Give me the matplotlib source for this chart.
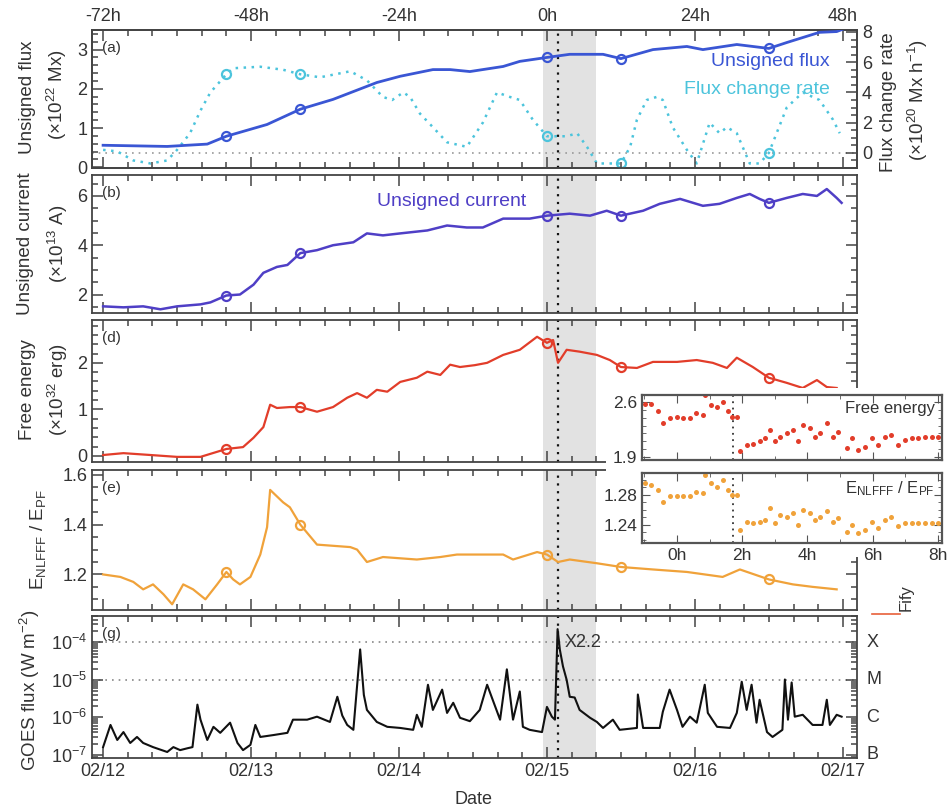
import numpy as np
import matplotlib
matplotlib.use('Agg')
import matplotlib.pyplot as plt
from matplotlib.ticker import MultipleLocator, FixedLocator, FuncFormatter, LogLocator, NullFormatter
from matplotlib.lines import Line2D

plt.rcParams['font.family'] = ['Liberation Sans', 'DejaVu Sans']
plt.rcParams['mathtext.default'] = 'regular'

# ---- data (time in hours relative to 2011-02-15 00:00 UT) ----
flare_t = 1.73        # X2.2 peak, 01:44 UT
snap_t = [-52, -40, 0, 12, 36]   # times marked with open circles

flux_t = [-72, -61.6, -55.1, -52, -45.4, -40, -34.7, -27.6, -23.8, -18.5, -15.7, -12.5,
          -7.1, -4.4, 0, 3.7, 9.1, 12, 17.2, 22.7, 25.3, 30.8, 36, 38.9, 44.2, 47.0, 48.0]
flux_v = [0.56, 0.53, 0.59, 0.79, 1.09, 1.48, 1.73, 2.16, 2.32, 2.49, 2.49, 2.44,
          2.57, 2.70, 2.80, 2.88, 2.88, 2.77, 3.00, 3.08, 3.00, 3.13, 3.03, 3.18, 3.44, 3.46, 3.52]

rate_t = [-72, -69.7, -67.1, -64.3, -61.6, -60.0, -57.9, -56.2, -54.6, -52, -50.9, -46.5,
          -42.8, -40, -36.8, -31.9, -29.2, -26.6, -25.1, -23.3, -22.2, -20.6, -18.5, -16.2,
          -13.0, -10.4, -8.1, -6.0, -4.4, -2.3, 0, 3.2, 4.9, 6.5, 8.1, 12, 13.5, 14.6, 16.2,
          17.8, 18.8, 20.4, 22.7, 24.3, 26.4, 28.0, 29.2, 30.8, 32.9, 34.5, 36, 38.9, 41.5,
          44.2, 46.4, 47.5]
rate_v = [0.2, 0.1, -0.5, -0.7, -0.5, 0.2, 1.3, 2.8, 4.0, 5.2, 5.6, 5.7,
          5.5, 5.2, 5.0, 5.4, 4.8, 3.7, 3.5, 4.0, 3.7, 2.6, 1.7, 0.7,
          0.4, 2.0, 4.0, 3.7, 3.5, 2.2, 1.1, 1.1, 1.3, 0.4, -0.7, -0.7, 0.4, 2.2, 3.5,
          3.7, 3.5, 1.7, 0.2, -0.7, 2.0, 1.3, 1.7, 1.3, -0.7, -0.7, 0.0, 3.0, 4.0,
          3.5, 2.2, 1.3]

cur_t = [-72, -68.7, -65.5, -62.7, -60.0, -56.2, -54.6, -52, -49.8, -47.6, -46.0, -43.8,
         -42.1, -40, -37.3, -34.7, -31.4, -29.2, -26.6, -23.8, -19.4, -16.2, -13.0, -10.4,
         -7.1, -2.8, 0, 3.7, 7.0, 9.7, 12, 15.6, 18.3, 21.6, 25.3, 28.0, 30.8, 32.9, 34.5,
         36, 38.9, 41.5, 43.8, 45.4, 47.0, 47.8]
cur_v = [1.52, 1.48, 1.52, 1.40, 1.52, 1.60, 1.68, 1.96, 2.00, 2.40, 2.88, 3.12,
         3.20, 3.68, 3.80, 4.00, 4.12, 4.48, 4.40, 4.48, 4.60, 4.80, 4.72, 4.72,
         5.08, 5.08, 5.20, 5.28, 5.20, 5.40, 5.20, 5.40, 5.68, 5.88, 5.60, 5.68, 5.92, 6.08, 5.88,
         5.72, 5.92, 6.08, 6.00, 6.28, 5.92, 5.72]

fe_t = [-72, -68.7, -64.3, -60.0, -56.2, -52, -49.3, -47.6, -46.0, -44.9, -43.8, -41.7,
        -40, -37.3, -34.7, -32.4, -30.8, -29.2, -27.6, -25.9, -23.8, -21.1, -19.4, -17.3,
        -15.7, -14.1, -11.7, -9.7, -7.1, -4.4, -1.6, 0, 1.0, 1.8, 3.2, 5.3, 8.1, 10.2, 12,
        14.6, 17.2, 21.1, 24.3, 26.9, 29.2, 30.8, 33.4, 36, 38.9, 41.5, 43.8, 45.4, 47.0]
fe_v = [0.02, 0.06, 0.02, -0.02, -0.02, 0.15, 0.19, 0.39, 0.62, 1.10, 1.03, 1.05,
        1.05, 0.95, 1.05, 1.25, 1.35, 1.25, 1.42, 1.38, 1.59, 1.68, 1.81, 1.74,
        1.96, 1.91, 1.95, 2.00, 2.17, 2.28, 2.56, 2.43, 2.49, 2.00, 2.28, 2.24, 2.17, 2.06, 1.91,
        1.89, 2.02, 2.02, 2.06, 2.00, 1.89, 2.11, 1.91, 1.68, 1.57, 1.46, 1.63, 1.48, 1.46]

ratio_t = [-72, -69.2, -67.1, -65.5, -63.9, -62.2, -60.8, -59.0, -57.4, -55.4, -53.5, -52,
           -50.9, -49.8, -48.1, -46.5, -45.4, -44.9, -42.8, -41.7, -40, -37.3, -31.9, -30.8,
           -29.2, -26.6, -21.1, -17.3, -14.6, -12.5, -7.1, -5.5, -1.6, 0, 1.8, 3.7, 8.1, 12,
           17.2, 22.7, 28.5, 31.3, 36, 39.9, 43.1, 47.0]
ratio_v = [1.20, 1.19, 1.17, 1.14, 1.16, 1.12, 1.08, 1.16, 1.14, 1.10, 1.16, 1.21,
           1.18, 1.16, 1.19, 1.28, 1.39, 1.54, 1.49, 1.47, 1.40, 1.32, 1.31, 1.30,
           1.25, 1.27, 1.26, 1.27, 1.28, 1.28, 1.28, 1.26, 1.29, 1.28, 1.25, 1.26, 1.245, 1.23,
           1.22, 1.21, 1.19, 1.22, 1.18, 1.16, 1.15, 1.14]

goes_t = [-72, -70.8, -69.7, -68.7, -67.6, -66.5, -65.5, -63.9, -61.6, -60.6, -59.5, -58.3,
          -57.5, -56.7, -56.2, -55.1, -54.1, -53.0, -51.4, -50.2, -49.3, -48.1, -47.3, -46.5,
          -44.4, -42.1, -41.2, -38.9, -37.3, -35.2, -34.0, -33.2, -32.4, -31.4, -30.3, -29.7, -29.2, -27.6,
          -25.9, -23.8, -21.7, -21.1, -20.3, -19.3, -18.5, -17.0, -16.2, -15.2, -14.1, -12.5,
          -10.9, -9.7, -8.8, -7.6, -6.5, -5.5, -4.4, -3.9, -2.8, -0.8, 0.0, 0.8, 1.3, 1.73,
          2.1, 2.6, 3.2, 3.7, 4.5, 5.3, 7.0, 8.1, 9.1, 10.7, 11.8, 14.6, 14.75, 15.6, 18.3, 18.8, 19.9,
          21.1, 22.0, 23.2, 24.3, 25.6, 26.1, 27.6, 29.7, 30.8, 31.6, 32.4, 33.2, 34.0, 34.5,
          35.7, 36.6, 38.2, 38.6, 39.1, 39.7, 40.2, 41.5, 43.1, 44.7, 45.4, 45.9, 47.0, 47.8]
goes_lg = [-6.79, -6.20, -6.60, -6.39, -6.68, -6.52, -6.68, -6.79, -6.92, -6.79, -6.87, -6.82,
           -6.79, -5.66, -6.06, -6.60, -6.25, -6.41, -6.14, -6.68, -6.87, -6.73, -6.20, -6.52,
           -6.47, -6.41, -6.06, -6.06, -5.98, -6.12, -5.45, -5.95, -6.20, -6.33, -4.19, -5.40, -5.80, -6.12,
           -6.25, -6.28, -6.33, -5.93, -6.25, -5.13, -5.80, -5.26, -5.88, -5.61, -6.01, -6.10,
           -5.80, -5.13, -5.53, -6.06, -4.72, -6.06, -5.31, -6.25, -6.33, -6.39, -5.72, -5.98, -6.06, -3.65,
           -4.20, -4.64, -5.00, -5.45, -5.47, -5.80, -6.01, -6.12, -6.28, -6.06, -6.33, -6.28, -5.39, -6.28, -6.28, -5.85, -5.26,
           -5.80, -6.25, -5.98, -6.14, -5.13, -5.88, -6.25, -6.28, -5.88, -5.05, -5.80, -5.13, -6.14, -5.53,
           -6.39, -6.52, -6.33, -4.99, -6.06, -5.07, -5.98, -5.93, -6.20, -6.20, -5.53, -6.20, -5.93, -5.98]

# inset: 12-min cadence around the flare
ins_t = [-0.98, -0.78, -0.57, -0.42, -0.21, -0.01, 0.19, 0.40, 0.60, 0.81, 0.86, 1.06, 1.22,
         1.42, 1.57, 1.68, 1.83, 1.93, 2.14, 2.34, 2.55, 2.70, 2.85, 3.01, 3.16, 3.37, 3.57,
         3.72, 3.87, 4.08, 4.23, 4.39, 4.59, 4.79, 4.95, 5.21, 5.36, 5.56, 5.77, 5.97, 6.17,
         6.38, 6.58, 6.79, 6.99, 7.20, 7.40, 7.61, 7.81, 8.02]
ins_fe = [2.57, 2.58, 2.48, 2.33, 2.39, 2.41, 2.39, 2.39, 2.46, 2.43, 2.69, 2.56, 2.54,
          2.60, 2.48, 2.41, 2.41, 1.97, 2.05, 2.07, 2.10, 2.14, 2.24, 2.10, 2.16, 2.20, 2.24,
          2.10, 2.31, 2.27, 2.16, 2.20, 2.33, 2.16, 2.22, 2.01, 2.14, 1.99, 2.03, 2.14, 2.05,
          2.16, 2.18, 2.05, 2.12, 2.14, 2.14, 2.16, 2.15, 2.15]
ins_ratio = [1.296, 1.293, 1.287, 1.271, 1.278, 1.278, 1.278, 1.278, 1.284, 1.282, 1.307, 1.296, 1.291,
             1.300, 1.287, 1.280, 1.280, 1.233, 1.244, 1.242, 1.244, 1.247, 1.262, 1.242, 1.253, 1.251, 1.256,
             1.240, 1.260, 1.256, 1.247, 1.251, 1.258, 1.244, 1.249, 1.231, 1.240, 1.229, 1.233, 1.244, 1.236,
             1.247, 1.251, 1.238, 1.242, 1.242, 1.243, 1.243, 1.243, 1.242]

rel_ticks = [-72, -48, -24, 0, 24, 48]
date_labels = ['02/12', '02/13', '02/14', '02/15', '02/16', '02/17']
goes_class = ['X', 'M', 'C', 'B']

# ---- colours ----
c_flux = '#3a56d4'
c_rate = '#4cc4dc'
c_cur = '#4f3fc6'
c_fe = '#e23d2a'
c_ratio = '#f0a23a'
c_ax = '#444444'
c_shade = '#e2e2e2'

W, H = 947, 808
fig = plt.figure(figsize=(W / 100, H / 100), dpi=100)


def box(l, t, r, b):
    return [l / W, 1 - b / H, (r - l) / W, (b - t) / H]


def style(ax, ymaj, ymin, shade=True):
    for s in ax.spines.values():
        s.set_color(c_ax)
        s.set_linewidth(1.3)
    ax.set_xlim(-73.8, 50.3)
    ax.xaxis.set_major_locator(FixedLocator(rel_ticks))
    ax.xaxis.set_minor_locator(MultipleLocator(4))
    if ymaj is not None:
        ax.yaxis.set_major_locator(MultipleLocator(ymaj))
        ax.yaxis.set_minor_locator(MultipleLocator(ymin))
    ax.tick_params(which='both', direction='in', top=True, right=True, colors=c_ax,
                   labelcolor='#333333', labelsize=13, labelbottom=False, width=1.1)
    ax.tick_params(which='major', length=8)
    ax.tick_params(which='minor', length=4)
    if shade:
        ax.axvspan(-0.7, 8.0, color=c_shade, zorder=0, lw=0)
    ax.axvline(flare_t, color='#111111', ls=(0, (1, 2.5)), lw=1.6, zorder=1)


def marks(ax, t, v, color):
    t = np.asarray(t)
    v = np.asarray(v)
    m = np.isin(t, snap_t)
    ax.plot(t[m], v[m], 'o', mfc='none', mec=color, ms=6.5, mew=1.6, zorder=4)


def ylab(x, y, s, **kw):
    fig.text(x / W, 1 - y / H, s, rotation=90, ha='center', va='center',
             fontsize=13.5, color='#333333', multialignment='center', **kw)


# ---- (a) flux ----
ax_a = fig.add_axes(box(92, 30, 857, 168))
style(ax_a, 1, 0.2, shade=False)
ax_a.set_ylim(-0.02, 3.5)
ax_a.tick_params(labeltop=True)
ax_a.xaxis.set_major_formatter(FuncFormatter(lambda v, p: f"{int(round(v))}h"))
ax_a.yaxis.set_ticks_position('left')
ax_a2 = ax_a.twinx()
ax_a2.set_ylim(-1.0, 8.13)
ax_a2.yaxis.set_major_locator(MultipleLocator(2))
ax_a2.yaxis.set_minor_locator(MultipleLocator(0.5))
ax_a2.tick_params(which='both', direction='in', colors=c_ax, labelcolor='#333333',
                  labelsize=13, width=1.1)
ax_a2.tick_params(which='major', length=8)
ax_a2.tick_params(which='minor', length=4)
for s in ax_a2.spines.values():
    s.set_color(c_ax)
    s.set_linewidth(1.3)
ax_a2.axvspan(-0.7, 8.0, color=c_shade, zorder=0, lw=0)
ax_a2.axhline(0, color='#999999', ls=(0, (1, 3)), lw=1.2, zorder=1)
ax_a2.plot(rate_t, rate_v, color=c_rate, ls=(0, (1, 2.2)), lw=1.8, zorder=2)
marks(ax_a2, rate_t, rate_v, c_rate)
ax_a.plot(flux_t, flux_v, color=c_flux, lw=2.0, zorder=3)
marks(ax_a, flux_t, flux_v, c_flux)
ax_a.set_zorder(ax_a2.get_zorder() + 1)
ax_a.patch.set_visible(False)
ax_a2.patch.set_visible(True)
ax_a.text(0.013, 0.87, '(a)', transform=ax_a.transAxes, fontsize=11, color='#333333', va='center')
fig.text(830 / W, 1 - 62 / H, 'Unsigned flux', color=c_flux, fontsize=14, ha='right', va='center')
fig.text(830 / W, 1 - 90 / H, 'Flux change rate', color=c_rate, fontsize=14, ha='right', va='center')
ylab(28, 97, 'Unsigned flux')
ylab(57, 95, '(×10$^{22}$ Mx)')
ylab(888, 102, 'Flux change rate')
ylab(918, 100, '(×10$^{20}$ Mx h$^{-1}$)')

# ---- (b) current ----
ax_b = fig.add_axes(box(92, 175, 857, 313))
style(ax_b, 2, 0.5)
ax_b.set_ylim(1.25, 6.85)
ax_b.plot(cur_t, cur_v, color=c_cur, lw=1.8, zorder=3)
marks(ax_b, cur_t, cur_v, c_cur)
ax_b.text(0.013, 0.87, '(b)', transform=ax_b.transAxes, fontsize=11, color='#333333', va='center')
fig.text(452 / W, 1 - 202 / H, 'Unsigned current', color=c_cur, fontsize=14, ha='center', va='center')
ylab(26, 244, 'Unsigned current')
ylab(58, 244, '(×10$^{13}$ A)')

# ---- (d) free energy ----
ax_d = fig.add_axes(box(92, 320, 857, 462))
style(ax_d, 1, 0.2)
ax_d.set_ylim(-0.13, 2.92)
ax_d.plot(fe_t, fe_v, color=c_fe, lw=1.6, zorder=3)
marks(ax_d, fe_t, fe_v, c_fe)
ax_d.text(0.013, 0.87, '(d)', transform=ax_d.transAxes, fontsize=11, color='#333333', va='center')
ylab(28, 390, 'Free energy')
ylab(58, 390, '(×10$^{32}$ erg)')

# ---- (e) ratio ----
ax_e = fig.add_axes(box(92, 470, 857, 610))
style(ax_e, 0.2, 0.05)
ax_e.set_ylim(1.057, 1.62)
ax_e.plot(ratio_t, ratio_v, color=c_ratio, lw=1.6, zorder=3)
marks(ax_e, ratio_t, ratio_v, c_ratio)
ax_e.text(0.013, 0.87, '(e)', transform=ax_e.transAxes, fontsize=11, color='#333333', va='center')
ylab(38, 540, 'E$_{NLFFF}$ / E$_{PF}$')

# ---- (g) GOES ----
ax_g = fig.add_axes(box(92, 616, 857, 758))
style(ax_g, None, None)
ax_g.set_yscale('log')
ax_g.set_ylim(10 ** -7.08, 10 ** -3.3)
ax_g.yaxis.set_major_locator(LogLocator(base=10, numticks=10))
ax_g.yaxis.set_minor_locator(LogLocator(base=10, subs=np.arange(2, 10), numticks=10))
ax_g.yaxis.set_minor_formatter(NullFormatter())
ax_g.yaxis.set_major_formatter(FuncFormatter(lambda v, p: f"$10^{{{int(round(np.log10(v)))}}}$"))
ax_g.tick_params(labelbottom=True)
ax_g.set_xticklabels(date_labels)
for lv in (1e-4, 1e-5):
    ax_g.axhline(lv, color='#888888', ls=(0, (1, 3)), lw=1.2, zorder=1)
ax_g.plot(goes_t, 10 ** np.asarray(goes_lg), color='#111111', lw=1.5, zorder=3)
ax_g.text(0.013, 0.87, '(g)', transform=ax_g.transAxes, fontsize=11, color='#333333', va='center')
ax_g.text(2.8, 10 ** -4.0, 'X2.2', fontsize=13, color='#333333', va='center', ha='left')
for i, cl in enumerate(goes_class):
    ax_g.text(1.012, 10 ** (-4 - i), cl, transform=ax_g.get_yaxis_transform(), fontsize=13,
              color='#333333', va='center', ha='left')
ylab(30, 690, 'GOES flux (W m$^{-2}$)')
fig.text(473 / W, 1 - 800 / H, 'Date', fontsize=13, color='#333333', ha='center', va='center')

# ---- inset ----
cover = fig.add_axes(box(606, 388, 947, 557))
cover.set_zorder(5)
cover.axis('off')
cover.add_patch(plt.Rectangle((0, 0), 1, 1, transform=cover.transAxes, color='white'))


def inset_style(ax):
    ax.set_zorder(6)
    for s in ax.spines.values():
        s.set_color('#555555')
        s.set_linewidth(1.6)
    ax.set_xlim(-1.07, 8.13)
    ax.xaxis.set_major_locator(MultipleLocator(2))
    ax.xaxis.set_minor_locator(MultipleLocator(1))
    ax.tick_params(which='both', direction='in', top=True, right=True, colors='#555555',
                   labelcolor='#333333', labelsize=12.5, labelbottom=False)
    ax.tick_params(which='major', length=6)
    ax.tick_params(which='minor', length=3)
    ax.axvline(flare_t, color='#333333', ls=(0, (1, 2.5)), lw=1.3)


ax_i1 = fig.add_axes(box(642, 395, 942, 460))
inset_style(ax_i1)
ax_i1.set_ylim(1.86, 2.69)
ax_i1.yaxis.set_major_locator(FixedLocator([1.9, 2.6]))
ax_i1.yaxis.set_minor_locator(MultipleLocator(0.1))
ax_i1.yaxis.set_major_formatter(FuncFormatter(lambda v, p: f"{v:.1f}"))
ax_i1.plot(ins_t, ins_fe, 'o', color=c_fe, ms=3.6, mew=0)
ax_i1.text(0.975, 0.8, 'Free energy', transform=ax_i1.transAxes, ha='right', va='center',
           fontsize=12, color='#333333')

ax_i2 = fig.add_axes(box(642, 473, 942, 543))
inset_style(ax_i2)
ax_i2.set_ylim(1.216, 1.309)
ax_i2.yaxis.set_major_locator(FixedLocator([1.24, 1.28]))
ax_i2.yaxis.set_minor_locator(MultipleLocator(0.01))
ax_i2.yaxis.set_major_formatter(FuncFormatter(lambda v, p: f"{v:.2f}"))
ax_i2.tick_params(labelbottom=True)
ax_i2.xaxis.set_major_formatter(FuncFormatter(lambda v, p: f"{int(round(v))}h"))
ax_i2.plot(ins_t, ins_ratio, 'o', color=c_ratio, ms=3.6, mew=0)
ax_i2.text(0.975, 0.78, 'E$_{NLFFF}$ / E$_{PF}$', transform=ax_i2.transAxes, ha='right',
           va='center', fontsize=12, color='#333333')

# cropped remnants at the right edge of the original figure
fig.text(906 / W, 1 - 598 / H, 'Fify', rotation=90, fontsize=12, color='#333333',
         ha='center', va='center')
fig.add_artist(Line2D([872 / W, 900 / W], [1 - 614 / H, 1 - 614 / H], color='#e8603a', lw=1.2))

fig.savefig('out.png', dpi=100)
